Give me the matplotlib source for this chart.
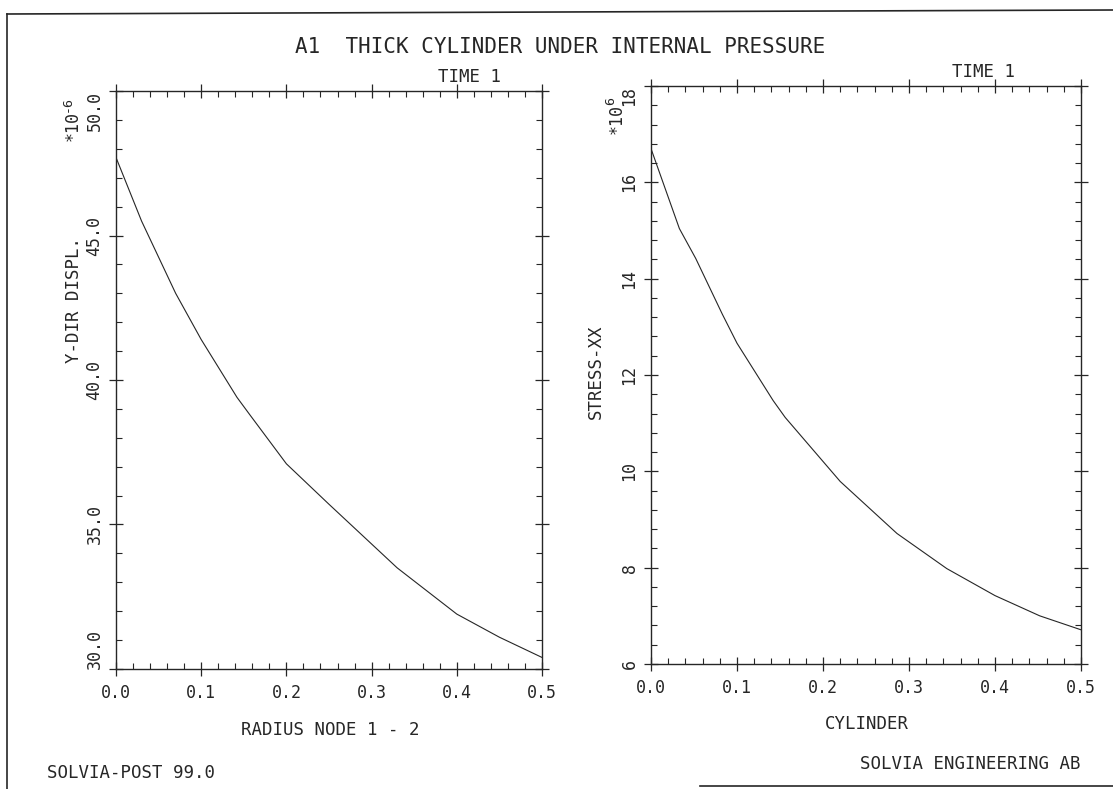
import numpy as np
import matplotlib.pyplot as plt
from matplotlib.lines import Line2D
from matplotlib.ticker import MultipleLocator

# radius node 1 - 2 along the cylinder wall
radius_disp = [0.0, 0.03, 0.07, 0.10, 0.142, 0.157, 0.20, 0.25, 0.33, 0.40, 0.45, 0.50]
y_displ = [47.7, 45.5, 43.0, 41.4, 39.4, 38.8, 37.1, 35.7, 33.5, 31.9, 31.1, 30.4]  # *10^-6

radius_stress = [0.0, 0.033, 0.052, 0.083, 0.10, 0.142, 0.156, 0.22, 0.286, 0.344, 0.40, 0.452, 0.50]
stress_xx = [16.7, 15.04, 14.42, 13.26, 12.66, 11.47, 11.12, 9.79, 8.71, 7.98, 7.42, 7.0, 6.71]  # *10^6

x_ticks = [0.0, 0.1, 0.2, 0.3, 0.4, 0.5]
disp_ticks = [30, 35, 40, 45, 50]
stress_ticks = [6, 8, 10, 12, 14, 16, 18]

W, H = 1113, 789
INK = "#262626"
plt.rcParams["font.family"] = "DejaVu Sans Mono"


def px(x, y):
    return x / W, 1 - y / H


fig = plt.figure(figsize=(W / 100, H / 100), dpi=100)
ax1 = fig.add_axes([116 / W, 1 - 669 / H, 426 / W, 578 / H])
ax2 = fig.add_axes([651 / W, 1 - 664 / H, 430 / W, 578 / H])


def style(ax, yticks, ylabels, yminor, first_va):
    ax.set_xlim(0, 0.5)
    ax.set_ylim(yticks[0], yticks[-1])
    ax.set_xticks(x_ticks, ["%.1f" % t for t in x_ticks])
    ax.set_yticks(yticks, ylabels)
    ax.xaxis.set_minor_locator(MultipleLocator(0.02))
    ax.yaxis.set_minor_locator(MultipleLocator(yminor))
    ax.tick_params(which="major", direction="inout", length=10, width=0.9,
                   top=True, right=True, labelsize=12, colors=INK, pad=6)
    ax.tick_params(which="minor", direction="in", length=4, width=0.8,
                   top=True, right=True, colors=INK)
    ax.tick_params(axis="y", labelrotation=90, pad=4)
    for s in ax.spines.values():
        s.set_linewidth(1.0)
        s.set_color(INK)
    ticks = ax.yaxis.get_major_ticks()
    for t in ticks:
        t.label1.set_va("center")
    ticks[0].label1.set_va(first_va)
    ticks[-1].label1.set_va("top")


ax1.plot(radius_disp, y_displ, color=INK, lw=0.8)
style(ax1, disp_ticks, ["%.1f" % t for t in disp_ticks], 1, "bottom")

ax2.plot(radius_stress, stress_xx, color=INK, lw=0.8)
style(ax2, stress_ticks, [str(t) for t in stress_ticks], 0.4, "center")

# titles and labels
fig.text(*px(560, 47), "A1  THICK CYLINDER UNDER INTERNAL PRESSURE",
         ha="center", va="center", fontsize=15, color=INK)
fig.text(*px(470, 86), "TIME 1", ha="center", va="bottom", fontsize=12.5, color=INK)
fig.text(*px(984, 81), "TIME 1", ha="center", va="bottom", fontsize=12.5, color=INK)

fig.text(*px(74, 300), "Y-DIR DISPL.", rotation=90, ha="center", va="center",
         fontsize=12.5, color=INK)
fig.text(*px(596, 372), "STRESS-XX", rotation=90, ha="center", va="center",
         fontsize=12.5, color=INK)

# axis multipliers
fig.text(*px(73, 141), "*10", rotation=90, ha="center", va="bottom", fontsize=12, color=INK)
fig.text(*px(67, 112), "-6", rotation=90, ha="center", va="bottom", fontsize=9.5, color=INK)
fig.text(*px(617, 134), "*10", rotation=90, ha="center", va="bottom", fontsize=12, color=INK)
fig.text(*px(611, 105), "6", rotation=90, ha="center", va="bottom", fontsize=9.5, color=INK)

fig.text(*px(330, 730), "RADIUS NODE 1 - 2", ha="center", va="center", fontsize=12.5, color=INK)
fig.text(*px(867, 724), "CYLINDER", ha="center", va="center", fontsize=12.5, color=INK)
fig.text(*px(47, 773), "SOLVIA-POST 99.0", ha="left", va="center", fontsize=12.5, color=INK)
fig.text(*px(1080, 764), "SOLVIA ENGINEERING AB", ha="right", va="center",
         fontsize=12.5, color=INK)

# page frame
fig.add_artist(Line2D([7 / W, 7 / W], [0, 1 - 14 / H], transform=fig.transFigure,
                      color=INK, lw=1.2))
fig.add_artist(Line2D([7 / W, 1], [1 - 14 / H, 1 - 10 / H], transform=fig.transFigure,
                      color=INK, lw=1.2))
fig.add_artist(Line2D([700 / W, 1], [1 - 786 / H, 1 - 786 / H], transform=fig.transFigure,
                      color=INK, lw=1.2))

fig.savefig("out.png", dpi=100)
